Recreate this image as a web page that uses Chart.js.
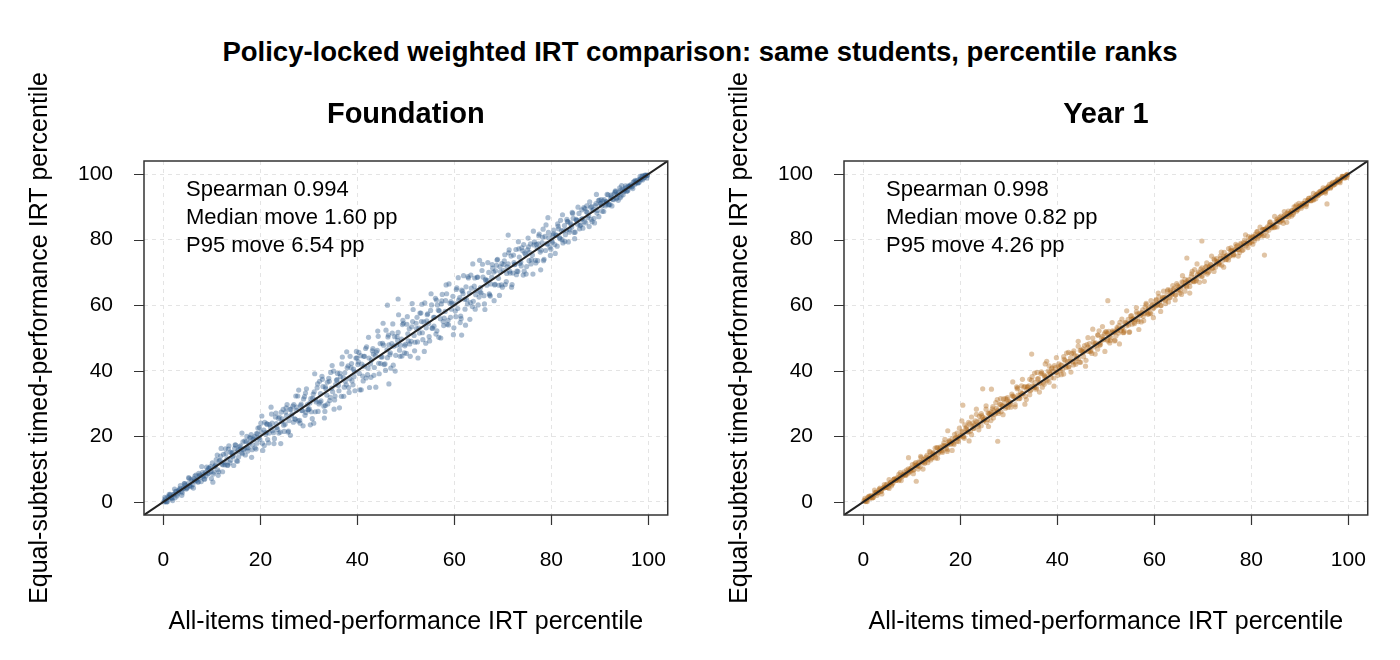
<!DOCTYPE html>
<html>
<head>
<meta charset="utf-8">
<script src="https://cdn.jsdelivr.net/npm/chart.js@4.4.1/dist/chart.umd.min.js"></script>
<style>
  html, body { margin: 0; padding: 0; background: #fff; }
  #wrap { position: relative; width: 1400px; height: 660px; overflow: hidden; }
  #main-title {
    position: absolute; left: 0; top: 36px; width: 1400px; text-align: center;
    font: bold 27.5px "Liberation Sans", Arial, sans-serif; line-height: 32px; color: #000;
  }
  .panel { position: absolute; top: 0; width: 700px; height: 660px; }
</style>
</head>
<body>
<div id="wrap">
  <div id="main-title">Policy-locked weighted IRT comparison: same students, percentile ranks</div>
  <div class="panel" style="left:0"><canvas id="foundation" width="700" height="660"></canvas></div>
  <div class="panel" style="left:700px"><canvas id="year1" width="700" height="660"></canvas></div>
</div>
<script>
// ── axes ──────────────────────────────────────────
const axisRange  = [-4, 104];
const tickValues = [0, 20, 40, 60, 80, 100];
const xTitle = 'All-items timed-performance IRT percentile';
const yTitle = 'Equal-subtest timed-performance IRT percentile';

// ── Foundation: x = all-items percentile, y = equal-subtest percentile ──
const foundationX = [
  0.2,0.5,0.9,1.2,1.5,1.9,2.2,2.5,2.9,3.2,3.5,3.9,4.2,4.5,4.9,5.2,5.5,5.9,6.2,6.5,6.9,7.2,7.5,7.9,8.2,8.5,8.9,9.2,9.5,9.9,
  10.2,10.5,10.9,11.2,11.5,11.9,12.2,12.5,12.9,13.2,13.5,13.9,14.2,14.5,14.9,15.2,15.5,15.9,16.2,16.5,16.9,17.2,17.5,17.9,18.2,18.5,18.9,19.2,19.5,19.9,
  20.2,20.5,20.9,21.2,21.5,21.9,22.2,22.5,22.9,23.2,23.5,23.9,24.2,24.5,24.9,25.2,25.5,25.9,26.2,26.5,26.9,27.2,27.5,27.9,28.2,28.5,28.9,29.2,29.5,29.9,
  30.2,30.5,30.9,31.2,31.5,31.9,32.2,32.5,32.9,33.2,33.5,33.9,34.2,34.5,34.9,35.2,35.5,35.9,36.2,36.5,36.9,37.2,37.5,37.9,38.2,38.5,38.9,39.2,39.5,39.9,
  40.2,40.5,40.9,41.2,41.5,41.9,42.2,42.5,42.9,43.2,43.5,43.9,44.2,44.5,44.9,45.2,45.5,45.9,46.2,46.5,46.9,47.2,47.5,47.9,48.2,48.5,48.9,49.2,49.5,49.9,
  50.2,50.5,50.9,51.2,51.5,51.9,52.2,52.5,52.9,53.2,53.5,53.9,54.2,54.5,54.9,55.2,55.5,55.9,56.2,56.5,56.9,57.2,57.5,57.9,58.2,58.5,58.9,59.2,59.5,59.9,
  60.2,60.5,60.9,61.2,61.5,61.9,62.2,62.5,62.9,63.2,63.5,63.9,64.2,64.5,64.9,65.2,65.5,65.9,66.2,66.5,66.9,67.2,67.5,67.9,68.2,68.5,68.9,69.2,69.5,69.9,
  70.2,70.5,70.9,71.2,71.5,71.9,72.2,72.5,72.9,73.2,73.5,73.9,74.2,74.5,74.9,75.2,75.5,75.9,76.2,76.5,76.9,77.2,77.5,77.9,78.2,78.5,78.9,79.2,79.5,79.9,
  80.2,80.5,80.9,81.2,81.5,81.9,82.2,82.5,82.9,83.2,83.5,83.9,84.2,84.5,84.9,85.2,85.5,85.9,86.2,86.5,86.9,87.2,87.5,87.9,88.2,88.5,88.9,89.2,89.5,89.9,
  90.2,90.5,90.9,91.2,91.5,91.9,92.2,92.5,92.9,93.2,93.5,93.9,94.2,94.5,94.9,95.2,95.5,95.9,96.2,96.5,96.9,97.2,97.5,97.9,98.2,98.5,98.9,99.2,99.5,99.8,
  0.1,0.4,0.7,1.1,1.4,1.7,2.1,2.4,2.7,3.1,3.4,3.7,4.1,4.4,4.7,5.1,5.4,5.7,6.1,6.4,6.7,7.1,7.4,7.7,8.1,8.4,8.7,9.1,9.4,9.7,
  10.1,10.4,10.7,11.1,11.4,11.7,12.1,12.4,12.7,13.1,13.4,13.7,14.1,14.4,14.7,15.1,15.4,15.7,16.1,16.4,16.7,17.1,17.4,17.7,18.1,18.4,18.7,19.1,19.4,19.7,
  20.1,20.4,20.7,21.1,21.4,21.7,22.1,22.4,22.7,23.1,23.4,23.7,24.1,24.4,24.7,25.1,25.4,25.7,26.1,26.4,26.7,27.1,27.4,27.7,28.1,28.4,28.7,29.1,29.4,29.7,
  30.1,30.4,30.7,31.1,31.4,31.7,32.1,32.4,32.7,33.1,33.4,33.7,34.1,34.4,34.7,35.1,35.4,35.7,36.1,36.4,36.7,37.1,37.4,37.7,38.1,38.4,38.7,39.1,39.4,39.7,
  40.1,40.4,40.7,41.1,41.4,41.7,42.1,42.4,42.7,43.1,43.4,43.7,44.1,44.4,44.7,45.1,45.4,45.7,46.1,46.4,46.7,47.1,47.4,47.7,48.1,48.4,48.7,49.1,49.4,49.7,
  50.1,50.4,50.7,51.1,51.4,51.7,52.1,52.4,52.7,53.1,53.4,53.7,54.1,54.4,54.7,55.1,55.4,55.7,56.1,56.4,56.7,57.1,57.4,57.7,58.1,58.4,58.7,59.1,59.4,59.7,
  60.1,60.4,60.7,61.1,61.4,61.7,62.1,62.4,62.7,63.1,63.4,63.7,64.1,64.4,64.7,65.1,65.4,65.7,66.1,66.4,66.7,67.1,67.4,67.7,68.1,68.4,68.7,69.1,69.4,69.7,
  70.1,70.4,70.7,71.1,71.4,71.7,72.1,72.4,72.7,73.1,73.4,73.7,74.1,74.4,74.7,75.1,75.4,75.7,76.1,76.4,76.7,77.1,77.4,77.7,78.1,78.4,78.7,79.1,79.4,79.7,
  80.1,80.4,80.7,81.1,81.4,81.7,82.1,82.4,82.7,83.1,83.4,83.7,84.1,84.4,84.7,85.1,85.4,85.7,86.1,86.4,86.7,87.1,87.4,87.7,88.1,88.4,88.7,89.1,89.4,89.7,
  90.1,90.4,90.7,91.1,91.4,91.7,92.1,92.4,92.7,93.1,93.4,93.7,94.1,94.4,94.7,95.1,95.4,95.7,96.1,96.4,96.7,97.1,97.4,97.7,98.1,98.4,98.7,99.1,99.4,99.7,
  0.3,0.8,1.3,1.8,2.3,2.8,3.3,3.8,4.3,4.8,5.3,5.8,6.3,6.8,7.3,7.8,8.3,8.8,9.3,9.8,
  10.3,10.8,11.3,11.8,12.3,12.8,13.3,13.8,14.3,14.8,15.3,15.8,16.3,16.8,17.3,17.8,18.3,18.8,19.3,19.8,
  20.3,20.8,21.3,21.8,22.3,22.8,23.3,23.8,24.3,24.8,25.3,25.8,26.3,26.8,27.3,27.8,28.3,28.8,29.3,29.8,
  30.3,30.8,31.3,31.8,32.3,32.8,33.3,33.8,34.3,34.8,35.3,35.8,36.3,36.8,37.3,37.8,38.3,38.8,39.3,39.8,
  40.3,40.8,41.3,41.8,42.3,42.8,43.3,43.8,44.3,44.8,45.3,45.8,46.3,46.8,47.3,47.8,48.3,48.8,49.3,49.8,
  50.3,50.8,51.3,51.8,52.3,52.8,53.3,53.8,54.3,54.8,55.3,55.8,56.3,56.8,57.3,57.8,58.3,58.8,59.3,59.8,
  60.3,60.8,61.3,61.8,62.3,62.8,63.3,63.8,64.3,64.8,65.3,65.8,66.3,66.8,67.3,67.8,68.3,68.8,69.3,69.8,
  70.3,70.8,71.3,71.8,72.3,72.8,73.3,73.8,74.3,74.8,75.3,75.8,76.3,76.8,77.3,77.8,78.3,78.8,79.3,79.8,
  80.3,80.8,81.3,81.8,82.3,82.8,83.3,83.8,84.3,84.8,85.3,85.8,86.3,86.8,87.3,87.8,88.3,88.8,89.3,89.8,
  90.3,90.8,91.3,91.8,92.3,92.8,93.3,93.8,94.3,94.8,95.3,95.8,96.3,96.8,97.3,97.8,98.3,98.8,99.3,99.8,
  48.4,46.2,71.1,61.5,46.5,33.4,31.0
];
const foundationY = [
  0.4,0.1,1.5,2.3,1.2,0.4,2.3,3.2,2.4,3.6,5.0,2.8,4.1,5.1,4.2,7.4,4.8,6.4,4.2,7.9,6.9,6.1,8.2,10.8,7.8,6.9,10.6,8.6,10.3,7.1,
  6.0,10.7,12.9,9.8,12.5,16.3,9.2,12.1,14.7,11.2,17.1,12.7,15.0,11.1,17.3,15.2,13.7,17.1,21.0,15.9,14.3,20.0,16.5,19.3,13.6,19.1,16.5,20.8,22.5,19.1,
  21.3,15.7,24.3,21.2,19.0,23.6,28.9,21.7,19.3,27.1,22.1,25.9,17.8,25.3,21.5,27.4,29.7,24.8,20.3,26.8,29.7,25.2,28.9,34.1,24.0,27.9,31.4,26.4,34.5,28.2,
  30.2,27.5,32.9,39.1,30.5,27.6,36.8,30.8,35.2,25.6,34.5,29.9,36.8,39.5,33.6,28.3,35.8,39.2,33.9,38.2,44.2,32.2,36.8,40.9,34.9,44.4,36.9,40.5,33.9,43.9,
  42.7,34.2,42.0,36.9,44.4,47.3,40.8,34.9,43.3,46.8,41.0,45.7,52.1,39.1,44.2,48.4,41.9,52.4,44.0,47.9,40.8,51.5,47.5,44.7,50.4,57.1,47.8,44.5,54.5,48.1,
  54.2,49.1,44.4,53.4,58.7,48.7,52.9,43.9,57.6,55.0,49.5,60.7,53.1,57.4,49.1,63.5,53.0,56.3,51.2,60.1,58.3,50.0,63.3,56.1,61.4,54.2,66.5,56.3,60.6,53.1,
  58.2,65.3,61.6,54.7,64.6,69.0,58.8,61.8,68.3,55.7,65.2,61.2,68.3,64.5,60.1,73.7,63.8,68.6,60.4,67.5,73.0,63.5,66.5,71.3,61.4,70.5,74.0,66.1,70.2,65.5,
  72.4,66.3,71.7,76.0,69.8,66.3,75.3,72.5,70.4,79.4,72.7,77.5,69.2,75.9,71.8,80.5,76.1,73.9,69.5,79.3,78.6,73.6,81.7,76.8,80.7,74.0,84.5,78.6,80.6,77.1,
  79.2,82.9,81.5,78.0,83.3,85.9,80.0,82.7,81.5,86.2,79.3,85.1,83.8,86.5,82.3,86.0,89.9,84.3,86.2,83.5,89.5,88.6,86.7,91.5,86.2,88.9,85.1,91.0,88.9,92.1,
  91.0,88.7,92.2,90.8,93.8,90.7,92.5,90.3,93.9,94.9,92.8,94.4,92.8,96.5,94.6,95.6,94.7,96.4,96.2,96.0,97.6,96.8,97.7,97.3,98.5,98.3,99.4,99.0,99.6,99.7,
  0.0,0.9,0.0,1.2,2.3,1.3,2.3,1.3,3.2,3.0,4.1,3.2,4.2,5.6,3.9,5.6,5.0,6.9,5.3,6.4,8.2,6.1,7.9,7.5,9.0,7.0,9.0,9.7,8.8,10.8,
  11.9,9.1,11.0,14.3,9.2,12.7,11.5,14.5,11.3,13.1,16.1,11.9,14.9,14.1,16.3,12.5,15.9,16.8,15.0,18.3,16.2,18.4,15.5,17.9,20.5,17.4,19.3,16.1,20.8,19.5,
  24.0,17.9,21.9,20.6,23.7,18.0,22.8,24.0,21.1,25.9,22.7,25.5,21.3,24.6,28.2,23.7,26.3,21.3,28.2,26.2,29.2,25.3,27.9,32.3,24.9,29.8,27.8,32.1,27.3,29.7,
  28.4,31.5,25.4,33.6,31.1,34.8,29.9,33.0,38.3,29.2,35.1,32.6,37.7,31.9,34.7,39.9,32.3,37.1,35.5,39.2,32.2,37.9,39.4,35.7,41.5,37.6,40.9,35.7,39.7,43.9,
  41.9,39.2,44.6,38.4,41.4,46.8,38.8,43.9,42.1,46.1,38.6,44.6,46.2,42.3,48.3,44.2,47.8,42.1,46.4,50.9,44.9,48.3,41.7,50.4,47.8,51.7,46.3,49.7,55.4,45.5,
  45.3,51.3,52.8,49.0,55.0,50.8,54.5,48.8,53.0,57.6,51.6,54.9,48.4,57.1,54.4,58.4,53.0,56.3,62.1,52.2,58.5,55.9,61.3,55.0,58.1,63.5,55.4,60.6,58.8,62.7,
  60.4,64.8,59.0,62.3,55.9,64.3,61.8,65.6,60.4,63.7,69.2,59.6,65.8,63.2,68.5,62.5,65.4,70.6,62.9,67.9,66.1,70.0,62.8,68.6,70.1,66.4,72.2,68.2,71.7,66.2,
  70.6,75.4,67.2,72.6,70.4,75.0,69.8,72.4,77.0,70.3,74.7,73.2,76.6,70.4,75.5,76.9,73.6,78.7,75.3,78.4,73.7,77.4,81.2,76.2,79.1,73.6,81.0,78.8,82.2,77.7,
  79.6,81.8,78.5,81.3,84.1,80.6,82.8,79.0,84.3,82.9,85.4,82.3,84.5,88.0,82.2,86.2,84.7,88.0,84.5,86.4,89.8,85.1,88.3,87.3,89.9,85.5,89.2,90.4,88.1,91.9,
  91.0,90.3,91.8,90.3,91.6,93.7,90.7,93.0,92.3,94.4,92.5,93.7,95.8,93.3,95.2,95.0,95.9,94.9,96.3,96.8,96.3,97.7,97.2,98.1,97.5,98.5,99.5,98.8,99.6,98.8,
  1.4,0.1,1.9,1.0,3.9,1.8,3.7,2.0,5.6,4.3,7.2,4.6,7.1,6.5,8.7,6.2,8.5,7.9,10.3,9.3,
  8.5,11.4,8.1,14.0,11.3,16.2,11.2,15.2,13.8,17.4,12.4,16.1,14.7,18.6,16.5,19.7,15.9,19.9,17.9,22.7,
  26.2,17.2,23.8,21.0,26.8,17.8,23.9,21.0,27.4,23.4,28.7,21.6,28.3,24.3,32.3,24.7,29.4,23.2,33.2,28.1,
  23.5,31.6,27.5,36.0,30.4,37.4,27.6,36.5,30.9,41.6,31.1,37.3,28.7,42.1,35.0,45.8,33.4,42.2,38.2,45.9,
  45.6,34.2,44.4,37.8,50.2,38.0,45.1,35.0,50.5,42.2,54.5,40.1,50.3,45.5,54.3,39.9,49.2,44.4,54.1,47.6,
  56.5,48.2,60.5,46.1,56.3,51.5,60.3,45.9,55.2,50.4,60.1,53.6,61.6,50.2,60.4,53.8,66.2,54.0,61.1,51.0,
  56.5,68.4,56.7,63.5,53.9,68.7,60.8,72.6,58.8,68.6,64.0,72.5,58.7,67.6,63.1,72.4,66.2,73.8,63.0,72.7,
  73.5,69.7,76.9,65.5,73.0,69.3,77.2,72.0,78.5,69.5,77.8,72.6,82.6,72.9,78.7,70.8,83.2,76.7,86.7,75.2,
  81.3,75.8,84.8,80.3,87.6,79.5,85.6,83.0,88.3,80.3,85.8,83.3,89.1,85.5,90.3,84.0,90.1,86.5,93.8,87.0,
  92.2,88.6,91.5,90.6,93.6,92.2,94.7,92.0,95.1,93.7,96.4,95.1,96.5,95.6,98.1,97.4,99.3,98.2,99.7,99.6,
  61.9,60.0,81.4,50.9,36.0,29.4,24.0
];
const foundationNotes = ['Spearman 0.994', 'Median move 1.60 pp', 'P95 move 6.54 pp'];

// ── Year 1 ──
const year1X = [
  0.3,0.6,0.9,1.3,1.6,1.9,2.3,2.6,2.9,3.3,3.6,3.9,4.3,4.6,4.9,5.3,5.6,5.9,6.3,6.6,6.9,7.3,7.6,7.9,8.3,8.6,8.9,9.3,9.6,9.9,
  10.3,10.6,10.9,11.3,11.6,11.9,12.3,12.6,12.9,13.3,13.6,13.9,14.3,14.6,14.9,15.3,15.6,15.9,16.3,16.6,16.9,17.3,17.6,17.9,18.3,18.6,18.9,19.3,19.6,19.9,
  20.3,20.6,20.9,21.3,21.6,21.9,22.3,22.6,22.9,23.3,23.6,23.9,24.3,24.6,24.9,25.3,25.6,25.9,26.3,26.6,26.9,27.3,27.6,27.9,28.3,28.6,28.9,29.3,29.6,29.9,
  30.3,30.6,30.9,31.3,31.6,31.9,32.3,32.6,32.9,33.3,33.6,33.9,34.3,34.6,34.9,35.3,35.6,35.9,36.3,36.6,36.9,37.3,37.6,37.9,38.3,38.6,38.9,39.3,39.6,39.9,
  40.3,40.6,40.9,41.3,41.6,41.9,42.3,42.6,42.9,43.3,43.6,43.9,44.3,44.6,44.9,45.3,45.6,45.9,46.3,46.6,46.9,47.3,47.6,47.9,48.3,48.6,48.9,49.3,49.6,49.9,
  50.3,50.6,50.9,51.3,51.6,51.9,52.3,52.6,52.9,53.3,53.6,53.9,54.3,54.6,54.9,55.3,55.6,55.9,56.3,56.6,56.9,57.3,57.6,57.9,58.3,58.6,58.9,59.3,59.6,59.9,
  60.3,60.6,60.9,61.3,61.6,61.9,62.3,62.6,62.9,63.3,63.6,63.9,64.3,64.6,64.9,65.3,65.6,65.9,66.3,66.6,66.9,67.3,67.6,67.9,68.3,68.6,68.9,69.3,69.6,69.9,
  70.3,70.6,70.9,71.3,71.6,71.9,72.3,72.6,72.9,73.3,73.6,73.9,74.3,74.6,74.9,75.3,75.6,75.9,76.3,76.6,76.9,77.3,77.6,77.9,78.3,78.6,78.9,79.3,79.6,79.9,
  80.3,80.6,80.9,81.3,81.6,81.9,82.3,82.6,82.9,83.3,83.6,83.9,84.3,84.6,84.9,85.3,85.6,85.9,86.3,86.6,86.9,87.3,87.6,87.9,88.3,88.6,88.9,89.3,89.6,89.9,
  90.3,90.6,90.9,91.3,91.6,91.9,92.3,92.6,92.9,93.3,93.6,93.9,94.3,94.6,94.9,95.3,95.6,95.9,96.3,96.6,96.9,97.3,97.6,97.9,98.3,98.6,98.9,99.3,99.6,99.8,
  0.1,0.4,0.7,1.1,1.4,1.7,2.1,2.4,2.7,3.1,3.4,3.7,4.1,4.4,4.7,5.1,5.4,5.7,6.1,6.4,6.7,7.1,7.4,7.7,8.1,8.4,8.7,9.1,9.4,9.7,
  10.1,10.4,10.7,11.1,11.4,11.7,12.1,12.4,12.7,13.1,13.4,13.7,14.1,14.4,14.7,15.1,15.4,15.7,16.1,16.4,16.7,17.1,17.4,17.7,18.1,18.4,18.7,19.1,19.4,19.7,
  20.1,20.4,20.7,21.1,21.4,21.7,22.1,22.4,22.7,23.1,23.4,23.7,24.1,24.4,24.7,25.1,25.4,25.7,26.1,26.4,26.7,27.1,27.4,27.7,28.1,28.4,28.7,29.1,29.4,29.7,
  30.1,30.4,30.7,31.1,31.4,31.7,32.1,32.4,32.7,33.1,33.4,33.7,34.1,34.4,34.7,35.1,35.4,35.7,36.1,36.4,36.7,37.1,37.4,37.7,38.1,38.4,38.7,39.1,39.4,39.7,
  40.1,40.4,40.7,41.1,41.4,41.7,42.1,42.4,42.7,43.1,43.4,43.7,44.1,44.4,44.7,45.1,45.4,45.7,46.1,46.4,46.7,47.1,47.4,47.7,48.1,48.4,48.7,49.1,49.4,49.7,
  50.1,50.4,50.7,51.1,51.4,51.7,52.1,52.4,52.7,53.1,53.4,53.7,54.1,54.4,54.7,55.1,55.4,55.7,56.1,56.4,56.7,57.1,57.4,57.7,58.1,58.4,58.7,59.1,59.4,59.7,
  60.1,60.4,60.7,61.1,61.4,61.7,62.1,62.4,62.7,63.1,63.4,63.7,64.1,64.4,64.7,65.1,65.4,65.7,66.1,66.4,66.7,67.1,67.4,67.7,68.1,68.4,68.7,69.1,69.4,69.7,
  70.1,70.4,70.7,71.1,71.4,71.7,72.1,72.4,72.7,73.1,73.4,73.7,74.1,74.4,74.7,75.1,75.4,75.7,76.1,76.4,76.7,77.1,77.4,77.7,78.1,78.4,78.7,79.1,79.4,79.7,
  80.1,80.4,80.7,81.1,81.4,81.7,82.1,82.4,82.7,83.1,83.4,83.7,84.1,84.4,84.7,85.1,85.4,85.7,86.1,86.4,86.7,87.1,87.4,87.7,88.1,88.4,88.7,89.1,89.4,89.7,
  90.1,90.4,90.7,91.1,91.4,91.7,92.1,92.4,92.7,93.1,93.4,93.7,94.1,94.4,94.7,95.1,95.4,95.7,96.1,96.4,96.7,97.1,97.4,97.7,98.1,98.4,98.7,99.1,99.4,99.7,
  0.3,0.8,1.3,1.8,2.3,2.8,3.3,3.8,4.3,4.8,5.3,5.8,6.3,6.8,7.3,7.8,8.3,8.8,9.3,9.8,
  10.3,10.8,11.3,11.8,12.3,12.8,13.3,13.8,14.3,14.8,15.3,15.8,16.3,16.8,17.3,17.8,18.3,18.8,19.3,19.8,
  20.3,20.8,21.3,21.8,22.3,22.8,23.3,23.8,24.3,24.8,25.3,25.8,26.3,26.8,27.3,27.8,28.3,28.8,29.3,29.8,
  30.3,30.8,31.3,31.8,32.3,32.8,33.3,33.8,34.3,34.8,35.3,35.8,36.3,36.8,37.3,37.8,38.3,38.8,39.3,39.8,
  40.3,40.8,41.3,41.8,42.3,42.8,43.3,43.8,44.3,44.8,45.3,45.8,46.3,46.8,47.3,47.8,48.3,48.8,49.3,49.8,
  50.3,50.8,51.3,51.8,52.3,52.8,53.3,53.8,54.3,54.8,55.3,55.8,56.3,56.8,57.3,57.8,58.3,58.8,59.3,59.8,
  60.3,60.8,61.3,61.8,62.3,62.8,63.3,63.8,64.3,64.8,65.3,65.8,66.3,66.8,67.3,67.8,68.3,68.8,69.3,69.8,
  70.3,70.8,71.3,71.8,72.3,72.8,73.3,73.8,74.3,74.8,75.3,75.8,76.3,76.8,77.3,77.8,78.3,78.8,79.3,79.8,
  80.3,80.8,81.3,81.8,82.3,82.8,83.3,83.8,84.3,84.8,85.3,85.8,86.3,86.8,87.3,87.8,88.3,88.8,89.3,89.8,
  90.3,90.8,91.3,91.8,92.3,92.8,93.3,93.8,94.3,94.8,95.3,95.8,96.3,96.8,97.3,97.8,98.3,98.8,99.3,99.8,
  10.9,20.5,24.6,26.4,27.7,17.4,9.3,34.7,37.5,50.4,69.8,82.7,95.6,66.7
];
const year1Y = [
  0.5,0.2,1.4,1.2,1.9,1.3,2.3,3.0,2.7,3.9,3.2,4.0,4.6,4.4,5.4,4.1,5.9,5.4,6.9,6.5,7.3,6.5,8.9,7.6,8.5,8.2,9.7,8.7,9.6,10.4,
  9.7,11.6,11.2,10.0,12.1,13.5,12.1,11.7,13.7,12.8,15.4,12.8,14.7,14.6,13.4,16.5,15.2,16.5,15.5,18.0,17.1,15.4,18.3,17.6,19.3,17.9,19.4,21.0,18.4,20.0,
  21.5,19.8,23.5,22.1,21.3,23.8,20.5,24.1,23.4,26.7,23.6,26.1,23.2,25.9,25.1,28.3,25.1,26.9,24.8,28.4,27.8,27.1,31.2,27.0,29.7,29.2,31.4,28.6,31.3,30.0,
  30.4,32.9,32.3,29.7,35.1,32.6,31.6,35.4,33.1,35.2,31.2,35.0,37.4,34.2,35.4,39.3,34.4,37.5,36.2,39.1,35.0,38.6,38.4,37.0,41.5,39.0,40.9,37.8,41.0,39.6,
  42.1,40.0,41.7,39.0,43.1,45.4,41.2,42.9,45.3,41.8,44.7,43.7,47.5,42.6,46.3,45.5,47.7,43.2,47.2,48.3,46.1,50.0,47.3,48.5,46.6,52.2,48.0,50.5,49.6,51.9,
  49.5,52.0,49.2,51.8,51.6,49.3,53.2,51.5,54.8,53.0,51.6,54.6,53.7,55.7,51.9,55.7,55.7,54.4,58.0,55.6,57.5,54.9,58.6,57.5,60.6,57.3,59.1,57.4,60.1,59.2,
  61.4,60.0,62.6,59.9,61.7,64.3,61.5,63.1,61.0,64.6,63.4,64.6,63.1,66.6,64.4,65.5,63.3,66.9,67.9,65.9,66.9,65.7,68.8,67.5,70.9,67.5,69.5,69.2,71.0,68.9,
  70.1,71.7,69.5,71.8,72.5,71.2,74.1,71.6,73.2,72.9,75.0,72.2,74.9,74.6,74.0,77.3,75.1,76.7,75.1,77.0,77.9,77.0,76.1,78.6,78.2,79.9,78.1,79.5,79.0,80.8,
  80.8,79.6,81.1,82.5,81.2,81.8,83.1,81.3,83.2,83.9,82.9,85.4,84.1,84.6,83.9,86.3,86.0,85.3,86.5,85.0,87.6,87.0,88.7,87.7,88.9,87.7,89.0,90.6,89.1,90.1,
  90.1,91.1,91.0,90.7,91.9,92.6,91.9,92.6,92.2,93.7,93.8,93.6,94.8,94.5,95.2,94.8,95.7,96.3,96.1,97.2,96.6,97.5,97.5,98.2,98.0,98.7,99.3,99.2,99.8,99.7,
  0.3,0.1,0.8,1.7,1.2,1.7,1.4,2.8,2.8,2.9,4.2,3.3,4.3,4.3,5.2,4.5,5.4,6.0,5.8,7.0,6.6,7.3,6.9,8.0,7.9,9.2,8.3,9.2,9.1,10.1,
  11.4,9.8,11.1,11.0,12.2,10.7,12.2,12.9,12.1,14.2,13.2,14.0,13.3,15.0,14.3,16.6,14.7,15.8,15.6,17.2,17.1,16.3,17.5,18.7,17.7,18.4,17.5,19.7,19.6,19.4,
  20.3,21.3,20.0,22.4,21.4,24.3,21.6,23.1,22.5,24.7,24.4,23.1,24.8,26.3,24.6,25.6,24.2,27.1,26.9,26.5,29.1,26.7,28.5,28.0,29.8,27.5,29.3,30.3,29.1,31.8,
  30.6,28.9,32.3,32.0,31.4,34.5,31.5,33.6,33.0,35.0,32.2,34.3,35.4,33.9,37.1,35.2,36.4,34.8,37.6,36.3,39.7,36.4,38.1,37.4,39.9,39.5,37.9,39.8,41.6,39.5,
  38.6,40.7,41.7,40.3,43.5,41.5,42.8,41.2,43.9,42.7,46.1,42.7,44.5,43.8,46.2,45.9,44.3,46.1,48.0,45.9,46.9,45.3,48.7,48.3,47.8,50.9,47.8,50.0,49.4,51.3,
  51.9,49.1,50.6,50.1,52.2,51.9,50.7,52.3,53.8,52.2,53.1,51.7,54.7,54.4,54.0,56.7,54.2,56.0,55.6,57.3,55.0,56.9,57.8,56.6,59.4,57.8,58.8,57.6,59.9,58.9,
  60.3,61.7,60.2,61.1,59.9,62.5,62.4,62.0,64.4,62.3,63.9,63.5,65.2,63.1,64.8,65.7,64.7,67.1,65.8,66.8,65.6,67.8,66.9,69.6,67.2,68.6,68.1,70.1,69.9,68.7,
  70.6,70.2,71.7,70.0,71.5,72.3,71.5,73.7,72.5,73.4,72.4,74.3,73.7,76.1,73.9,75.3,74.7,76.6,76.5,75.5,76.9,78.2,76.9,77.7,76.7,79.1,78.9,78.8,80.9,79.0,
  79.4,80.9,80.4,82.4,80.8,81.8,81.7,83.1,83.0,82.4,83.5,84.5,83.7,84.4,83.7,85.6,85.6,85.5,87.2,85.9,87.1,87.0,88.1,86.9,88.2,88.8,88.2,90.1,89.2,89.9,
  90.5,90.5,90.5,91.9,91.0,91.9,92.0,92.9,92.1,93.1,93.7,93.4,94.7,94.3,94.9,94.6,95.7,95.5,96.9,96.0,96.8,96.8,97.8,97.9,97.7,98.5,99.3,98.9,99.4,99.0,
  1.1,0.1,1.8,1.2,3.6,2.0,3.6,2.4,5.3,4.4,6.8,4.9,6.9,6.6,8.4,6.5,8.4,8.1,10.1,9.4,
  8.6,12.0,10.9,13.9,10.0,13.1,12.0,15.2,13.6,16.4,13.3,16.7,15.1,19.1,15.9,18.3,15.7,20.6,18.5,22.5,
  24.7,19.4,22.9,18.6,25.9,22.4,28.3,22.0,26.9,25.0,29.3,23.0,27.5,25.6,30.3,27.6,31.5,26.6,31.5,28.8,
  29.7,36.6,29.0,34.8,32.4,37.4,29.8,35.1,32.7,38.2,34.9,39.5,33.5,39.3,35.9,42.9,36.5,40.6,35.3,44.0,
  41.2,38.8,44.3,41.0,45.6,39.6,45.4,42.0,49.0,42.6,46.7,41.4,50.1,45.8,52.7,45.1,50.9,48.5,53.5,45.9,
  51.4,48.5,54.7,49.1,52.7,48.2,55.8,52.1,58.3,51.7,56.8,54.8,59.3,52.6,57.3,55.3,60.2,57.3,61.4,56.2,
  59.8,63.7,58.1,62.2,60.5,64.8,62.4,66.0,61.6,66.1,63.7,69.0,64.3,67.5,63.7,70.3,67.2,72.6,67.0,71.4,
  67.3,72.9,70.4,75.0,70.3,74.2,72.8,76.2,71.6,75.1,73.8,77.5,75.5,78.6,75.0,78.9,76.9,81.5,77.6,80.4,
  78.6,81.6,80.3,83.8,81.1,83.2,81.1,85.3,83.6,87.1,83.9,86.8,86.0,88.6,85.3,88.0,87.2,90.0,88.7,91.1,
  89.6,91.0,90.1,92.6,91.9,94.1,92.5,94.3,94.1,95.8,94.2,95.9,95.7,97.5,97.0,98.5,97.4,99.2,98.8,99.9,
  6.3,29.5,34.5,34.4,18.5,21.7,13.5,45.1,42.1,61.4,79.6,75.3,90.9,74.4
];
const year1Notes = ['Spearman 0.998', 'Median move 0.82 pp', 'P95 move 4.26 pp'];

// ═══════════════════════════════════════════════════
const FONT = '"Liberation Sans", Arial, Helvetica, sans-serif';
Chart.defaults.font.family = FONT;
Chart.defaults.color = '#000';

// R-like frame: box, outward ticks, panel title, axis titles, stat notes
const rFrame = {
    id: 'rFrame',
    afterDraw(chart, args, opts) {
        const { ctx, chartArea: a, scales: { x, y } } = chart;
        ctx.save();
        ctx.strokeStyle = '#333';
        ctx.lineWidth = 1.5;
        ctx.strokeRect(a.left, a.top, a.right - a.left, a.bottom - a.top);

        ctx.beginPath();
        tickValues.forEach(v => {
            const px = Math.round(x.getPixelForValue(v)) + 0.5;
            ctx.moveTo(px, a.bottom); ctx.lineTo(px, a.bottom + 10);
            const py = Math.round(y.getPixelForValue(v)) + 0.5;
            ctx.moveTo(a.left, py); ctx.lineTo(a.left - 10, py);
        });
        ctx.lineWidth = 1.2;
        ctx.stroke();

        const cx = (a.left + a.right) / 2;
        const cy = (a.top + a.bottom) / 2;
        ctx.fillStyle = '#000';
        ctx.textAlign = 'center';
        ctx.textBaseline = 'middle';
        ctx.font = 'bold 29px ' + FONT;
        ctx.fillText(opts.title, cx, a.top - 46);

        ctx.font = '25px ' + FONT;
        ctx.fillText(xTitle, cx, a.bottom + 107);
        ctx.save();
        ctx.translate(40, cy);
        ctx.rotate(-Math.PI / 2);
        ctx.fillText(yTitle, 0, 0);
        ctx.restore();

        ctx.textAlign = 'left';
        ctx.font = '22px ' + FONT;
        opts.notes.forEach((t, i) => ctx.fillText(t, a.left + 42, a.top + 29 + i * 28));
        ctx.restore();
    }
};

function makePanel(id, xs, ys, color, title, notes) {
    const pts = xs.map((v, i) => ({ x: v, y: ys[i] }));
    const diag = axisRange.map(v => ({ x: v, y: v }));
    const axis = (fit) => ({
        type: 'linear',
        min: axisRange[0],
        max: axisRange[1],
        afterBuildTicks: s => { s.ticks = tickValues.map(v => ({ value: v })); },
        afterFit: fit,
        grid: { color: '#e4e4e4', lineWidth: 1, drawTicks: false },
        border: { display: false, dash: [4, 4] },
        ticks: { font: { size: 21 }, color: '#000' }
    });
    const xAxis = axis(s => { s.height = 145; });
    xAxis.ticks.padding = 33;
    xAxis.ticks.maxRotation = 0;
    const yAxis = axis(s => { s.width = 144; });
    yAxis.ticks.padding = 31;

    return new Chart(document.getElementById(id), {
        type: 'scatter',
        data: {
            datasets: [
                {
                    type: 'line', data: diag, borderColor: '#222', borderWidth: 2,
                    pointRadius: 0, order: 0, clip: 0
                },
                {
                    data: pts, backgroundColor: color, borderWidth: 0,
                    pointRadius: 2.6, order: 1
                }
            ]
        },
        options: {
            responsive: false,
            animation: false,
            layout: { padding: { top: 161, right: 31, left: 0, bottom: 0 } },
            scales: { x: xAxis, y: yAxis },
            plugins: {
                legend: { display: false },
                tooltip: { enabled: false },
                rFrame: { title, notes }
            }
        },
        plugins: [rFrame]
    });
}

makePanel('foundation', foundationX, foundationY, 'rgba(44,90,140,0.4)', 'Foundation', foundationNotes);
makePanel('year1', year1X, year1Y, 'rgba(178,108,30,0.4)', 'Year 1', year1Notes);
</script>
</body>
</html>
